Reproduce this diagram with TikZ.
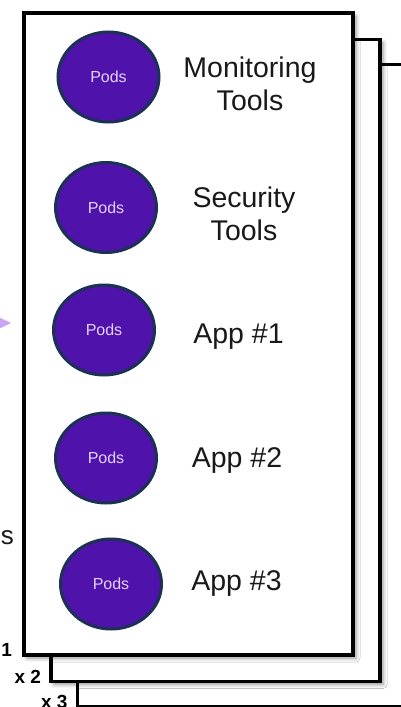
\documentclass[tikz,border=0pt]{standalone}
\usepackage{fontspec}
\setmainfont{Liberation Sans}
\usetikzlibrary{arrows.meta,shapes.geometric,shadows.blur}
\definecolor{podfill}{HTML}{4F12AB}
\definecolor{podedge}{HTML}{1D3155}
\definecolor{podtext}{HTML}{E4D2FF}
\definecolor{feedarrow}{HTML}{CBA3F7}
\begin{document}
\begin{tikzpicture}[x=1pt,y=-1pt,
    card/.style={draw=black, line width=3.5pt, fill=white, inner sep=0pt,
      minimum width=329pt, minimum height=642pt,
      blur shadow={shadow xshift=3pt, shadow yshift=-3pt, shadow blur radius=4pt, shadow opacity=45}},
    pod/.style={ellipse, draw=podedge, line width=3pt, fill=podfill, inner sep=0pt,
      minimum width=101pt, minimum height=90pt, text=podtext, font=\fontsize{16}{18}\selectfont},
    tool/.style={align=center, inner sep=0pt, text=black!90, font=\fontsize{28.5}{33}\selectfont},
    countlabel/.style={anchor=base east, inner sep=0pt, font=\bfseries\fontsize{19}{21}\selectfont}]
  \useasboundingbox (0,0) rectangle (400,707);
  \coordinate (feedin) at (-40,323);
  \coordinate (feedtip) at (11,323);
  \draw[feedarrow, line width=2pt, -{Triangle[length=11pt,width=10pt]}] (feedin) -- (feedtip);
  \node[tool, anchor=base east] (tail) at (14,544) {\fontsize{26}{30}\selectfont s};
  \node[card] (card3) at (242,385.5) {};
  \node[card] (card2) at (215.5,360.5) {};
  \node[card] (card1) at (188.5,334) {};
  \node[countlabel] (n1) at ([xshift=-10pt]card1.south west) {x 1};
  \node[countlabel] (n2) at ([xshift=-8pt]card2.south west) {x 2};
  \node[countlabel] (n3) at ([xshift=-8pt]card3.south west) {x 3};
  \node[pod] (mon) at (108.5,77) {Pods};
  \node[pod] (sec) at (106,207.5) {Pods};
  \node[pod] (app1) at (104,330) {Pods};
  \node[pod] (app2) at (106,458) {Pods};
  \node[pod] (app3) at (111,584) {Pods};
  \node[tool] (monlabel) at (250,84) {Monitoring\\Tools};
  \node[tool] (seclabel) at (244,214) {Security\\Tools};
  \node[tool, anchor=base] (app1label) at (238.5,343) {App \#1};
  \node[tool, anchor=base] (app2label) at (237,467) {App \#2};
  \node[tool, anchor=base] (app3label) at (236.5,590) {App \#3};
\end{tikzpicture}
\end{document}
